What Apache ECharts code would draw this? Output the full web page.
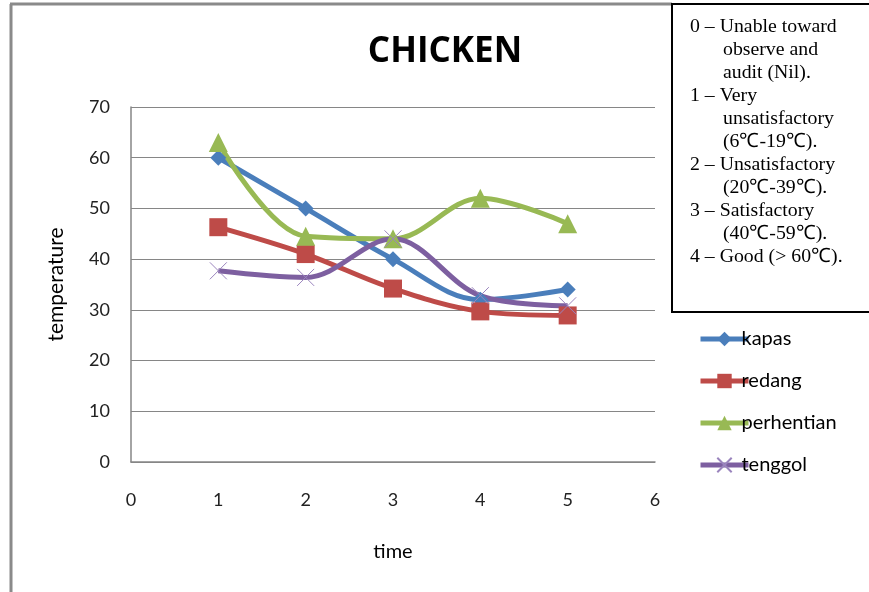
<!DOCTYPE html>
<html>
<head>
<meta charset="utf-8">
<script src="https://cdn.jsdelivr.net/npm/echarts@6/dist/echarts.min.js"></script>
<style>
  html, body { margin: 0; padding: 0; background: #fff; }
  #chart { width: 869px; height: 592px; }
</style>
</head>
<body>
<div id="chart"></div>
<script>
// Sampling times and temperature readings per island
const times = [1, 2, 3, 4, 5];
const kapas = [60, 50, 40, 32, 34];
const redang = [46.3, 41, 34.2, 29.7, 28.9];
const perhentian = [63, 44.5, 44, 52, 47];
const tenggol = [37.7, 36.4, 44, 32.8, 30.8];

const seriesNames = ['kapas', 'redang', 'perhentian', 'tenggol'];
const seriesColors = ['#4A7EBB', '#BE4B48', '#98B954', '#7D5FA0'];

// Rating scale notes shown in the boxed key
const scaleNotes = [
  ['0 – Unable toward', 'observe and', 'audit (Nil).'],
  ['1 – Very', 'unsatisfactory', '(6℃-19℃).'],
  ['2 – Unsatisfactory', '(20℃-39℃).'],
  ['3 – Satisfactory', '(40℃-59℃).'],
  ['4 – Good (> 60℃).']
];

const pairs = (ys) => times.map((t, i) => [t, ys[i]]);

// Build the boxed key text lines (first line of each entry flush, rest indented)
const noteGraphics = [];
let lineY = 27;
scaleNotes.forEach(entry => {
  entry.forEach((txt, j) => {
    noteGraphics.push({
      type: 'text',
      x: j === 0 ? 690 : 723,
      y: lineY,
      z: 12,
      style: {
        text: txt,
        fontFamily: 'Liberation Serif',
        fontSize: 19.8,
        fill: '#000',
        verticalAlign: 'middle',
        align: 'left'
      }
    });
    lineY += 23;
  });
});

const chart = echarts.init(document.getElementById('chart'));
const uiFont = 'Lato';

chart.setOption({
  animation: false,
  title: {
    text: 'CHICKEN',
    left: 440,
    top: 30,
    textAlign: 'center',
    textStyle: { fontFamily: 'Open Sans', fontWeight: 'bold', fontSize: 35, color: '#000' }
  },
  grid: { left: 131, right: 214, top: 107, bottom: 130 },
  legend: {
    orient: 'vertical',
    left: 693,
    top: 324,
    itemWidth: 48,
    itemHeight: 18,
    itemGap: 22,
    data: seriesNames,
    lineStyle: { width: 5 },
    textStyle: { fontFamily: uiFont, fontSize: 20, color: '#000', padding: [0, 0, 0, -12] }
  },
  xAxis: {
    type: 'value',
    min: 0, max: 6, interval: 1,
    name: 'time',
    nameLocation: 'middle',
    nameGap: 80,
    nameTextStyle: { fontFamily: uiFont, fontSize: 20, color: '#000' },
    axisLine: { show: true, lineStyle: { color: '#868686', width: 1.5 } },
    axisTick: { show: false },
    splitLine: { show: false },
    axisLabel: { margin: 29, fontFamily: uiFont, fontSize: 18, color: '#222' }
  },
  yAxis: {
    type: 'value',
    min: 0, max: 70, interval: 10,
    name: 'temperature',
    nameLocation: 'middle',
    nameGap: 64,
    nameRotate: 90,
    nameTextStyle: { fontFamily: uiFont, fontSize: 21, color: '#000' },
    axisLine: { show: true, lineStyle: { color: '#868686', width: 1.5 } },
    axisTick: { show: false },
    splitLine: { show: true, lineStyle: { color: '#868686', width: 1 } },
    axisLabel: { margin: 21, fontFamily: uiFont, fontSize: 18, color: '#222' }
  },
  series: [
    {
      name: 'kapas', type: 'line', smooth: 0.35, data: pairs(kapas),
      symbol: 'diamond', symbolSize: 16,
      lineStyle: { width: 5, color: seriesColors[0] },
      itemStyle: { color: seriesColors[0] }
    },
    {
      name: 'redang', type: 'line', smooth: 0.35, data: pairs(redang),
      symbol: 'rect', symbolSize: 18,
      lineStyle: { width: 5, color: seriesColors[1] },
      itemStyle: { color: seriesColors[1] }
    },
    {
      name: 'perhentian', type: 'line', smooth: 0.35, data: pairs(perhentian),
      symbol: 'triangle', symbolSize: 19,
      lineStyle: { width: 5, color: seriesColors[2] },
      itemStyle: { color: seriesColors[2] }
    },
    {
      name: 'tenggol', type: 'line', smooth: 0.35, data: pairs(tenggol),
      symbol: 'path://M0,0L10,10M10,0L0,10', symbolSize: 17,
      lineStyle: { width: 5, color: seriesColors[3] },
      itemStyle: { color: 'rgba(0,0,0,0)', borderColor: '#9A84BD', borderWidth: 1 }
    }
  ],
  graphic: [
    // outer frame of the chart area
    { type: 'line', shape: { x1: 11, y1: 4, x2: 11, y2: 592 }, style: { stroke: '#8a8a8a', lineWidth: 3 } },
    { type: 'line', shape: { x1: 10, y1: 4, x2: 672, y2: 4 }, style: { stroke: '#8a8a8a', lineWidth: 3 } },
    // boxed rating key
    { type: 'rect', shape: { x: 672, y: 4, width: 200, height: 308 }, style: { fill: '#fff', stroke: '#000', lineWidth: 2 }, z: 10 }
  ].concat(noteGraphics)
});
</script>
</body>
</html>
